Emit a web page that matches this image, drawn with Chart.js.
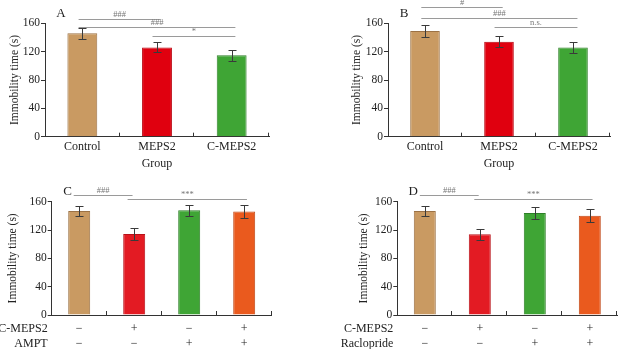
<!DOCTYPE html>
<html><head><meta charset="utf-8">
<script src="https://cdn.jsdelivr.net/npm/chart.js@4"></script>
<style>
body{margin:0;background:#fff;width:618px;height:349px;position:relative;overflow:hidden}
canvas{position:absolute}
</style></head><body>
<canvas id="cA" width="309" height="175" style="left:0;top:0"></canvas>
<canvas id="cB" width="309" height="175" style="left:309px;top:0"></canvas>
<canvas id="cC" width="309" height="174" style="left:0;top:175px"></canvas>
<canvas id="cD" width="309" height="174" style="left:309px;top:175px"></canvas>
<script>
// ---- data ----
const groupsAB = ['Control', 'MEPS2', 'C-MEPS2'];
const valuesA = [146, 126, 115];
const errorsA = [8, 7, 8];
const valuesB = [149, 134, 126];
const errorsB = [8, 8, 8];
const cmeps2Row = ['\u2212', '+', '\u2212', '+'];
const drugRow = ['\u2212', '\u2212', '+', '+'];
const valuesC = [147, 114.5, 148, 146];
const errorsC = [7, 8, 8, 9];
const valuesD = [147, 114, 144, 140];
const errorsD = [7, 8, 8, 9];
const rowLabelsC = ['C-MEPS2', 'AMPT'];
const rowLabelsD = ['C-MEPS2', 'Raclopride'];
const yTicks = [0, 40, 80, 120, 160];
const yTitle = 'Immobility time (s)';
const xTitleAB = 'Group';
const sigA = [
  {from: -0.05, to: 1.05, value: 166, text: '###'},
  {from: -0.05, to: 2.05, value: 154.5, text: '###'},
  {from: 0.94, to: 2.05, value: 142, text: '*'}
];
const sigB = [
  {from: -0.05, to: 1.05, value: 183.5, text: '#'},
  {from: -0.05, to: 2.06, value: 167, text: '###'},
  {from: 0.94, to: 2.06, value: 154.5, text: 'n.s.'}
];
const sigC = [
  {from: -0.1, to: 0.97, value: 169.4, text: '###'},
  {from: 0.88, to: 3.05, value: 163.8, text: '***'}
];
const sigD = [
  {from: -0.09, to: 0.98, value: 169.4, text: '###'},
  {from: 0.9, to: 3.05, value: 163.8, text: '***'}
];

// ---- styles ----
const FONT = "'Liberation Serif', 'Times New Roman', serif";
const TXT = '#222';
const AX = '#333';
const colsAB = ['#c99a62', '#e0000f', '#3fa535'];
const bordAB = ['#9c7245', '#b8000c', '#2d7f27'];
const colsCD = ['#c99a62', '#e31b23', '#3fa535', '#ea5a1e'];
const bordCD = ['#9c7245', '#b81219', '#2d7f27', '#c04816'];

const extras = {
  id: 'extras',
  afterDatasetsDraw(chart, args, o) {
    const ctx = chart.ctx, xs = chart.scales.x, ys = chart.scales.y, ca = chart.chartArea;
    const data = chart.data.datasets[0].data;
    const n = data.length;
    ctx.save();
    // error bars
    ctx.strokeStyle = '#3a3a3a'; ctx.lineWidth = 1;
    o.errors.forEach((e, i) => {
      const px = Math.round(xs.getPixelForValue(i)) + 0.5;
      const t = Math.round(ys.getPixelForValue(data[i] + e)) + 0.5;
      const b = Math.round(ys.getPixelForValue(data[i] - e)) + 0.5;
      ctx.beginPath();
      ctx.moveTo(px, t); ctx.lineTo(px, b);
      ctx.moveTo(px - 4, t); ctx.lineTo(px + 4, t);
      ctx.moveTo(px - 4, b); ctx.lineTo(px + 4, b);
      ctx.stroke();
    });
    // inward x ticks at category boundaries
    ctx.strokeStyle = AX;
    for (let i = 1; i <= n; i++) {
      const px = Math.round(xs.getPixelForValue(i - 0.5)) - 0.5;
      ctx.beginPath(); ctx.moveTo(px, ca.bottom); ctx.lineTo(px, ca.bottom - 4); ctx.stroke();
    }
    // significance lines
    o.sig.forEach(s => {
      const x1 = xs.getPixelForValue(s.from), x2 = xs.getPixelForValue(s.to);
      const py = Math.round(ys.getPixelForValue(s.value)) + 0.5;
      ctx.strokeStyle = '#9a9a9a'; ctx.lineWidth = 1;
      ctx.beginPath(); ctx.moveTo(x1, py); ctx.lineTo(x2, py); ctx.stroke();
      ctx.fillStyle = '#777'; ctx.font = '8.5px ' + FONT;
      ctx.textAlign = 'center'; ctx.textBaseline = 'bottom';
      ctx.fillText(s.text, (x1 + x2) / 2, py - 0.5);
    });
    // panel letter
    ctx.fillStyle = TXT; ctx.font = '13px ' + FONT;
    ctx.textAlign = 'center'; ctx.textBaseline = 'middle';
    ctx.fillText(o.letter, ca.left + 16, ca.top - 10);
    // row labels
    if (o.rows) {
      ctx.font = '12px ' + FONT; ctx.textAlign = 'right'; ctx.fillStyle = TXT;
      o.rows.forEach((r, k) => ctx.fillText(r, ca.left - 4, ca.bottom + o.rowY + k * 14.4));
    }
    ctx.restore();
  }
};

function makeChart(id, cfg) {
  new Chart(document.getElementById(id), {
    type: 'bar',
    data: {
      labels: cfg.labels,
      datasets: [{
        data: cfg.values,
        backgroundColor: cfg.colors,
        borderColor: cfg.borders,
        borderWidth: 1,
        barPercentage: 0.4,
        categoryPercentage: 1
      }]
    },
    options: {
      responsive: false,
      animation: false,
      devicePixelRatio: 1,
      layout: {padding: {top: cfg.top, right: cfg.right, left: 0, bottom: 0}},
      plugins: {
        legend: {display: false}, tooltip: {enabled: false},
        extras: {errors: cfg.errors, sig: cfg.sig, letter: cfg.letter, rows: cfg.rows, rowY: cfg.rowY}
      },
      scales: {
        x: {
          grid: {display: false, drawTicks: false},
          border: {display: true, color: AX, width: 1},
          ticks: {color: TXT, font: {family: FONT, size: 12}, padding: cfg.xPad, maxRotation: 0, autoSkip: false},
          title: {display: !!cfg.xTitle, text: cfg.xTitle || '', color: TXT, font: {family: FONT, size: 12}, padding: {top: 0, bottom: 4.3}},
          afterFit: s => { s.height = cfg.xH; }
        },
        y: {
          min: 0, max: 160,
          afterBuildTicks: s => { s.ticks = yTicks.map(v => ({value: v})); },
          grid: {display: true, drawOnChartArea: false, drawTicks: true, tickLength: 4, color: AX},
          border: {display: true, color: AX, width: 1},
          ticks: {color: TXT, font: {family: FONT, size: 11.5}, padding: 1},
          title: {display: true, text: yTitle, color: TXT, font: {family: FONT, size: 11.5}, padding: {top: cfg.yTitlePad, bottom: 0}},
          afterFit: s => { s.width = cfg.yW; }
        }
      }
    },
    plugins: [extras]
  });
}

makeChart('cA', {labels: groupsAB, values: valuesA, errors: errorsA, colors: colsAB, borders: bordAB,
  sig: sigA, letter: 'A', top: 23.3, right: 40, yW: 45, xH: 38.3, xPad: 3, xTitle: xTitleAB, yTitlePad: 7.8});
makeChart('cB', {labels: groupsAB, values: valuesB, errors: errorsB, colors: colsAB, borders: bordAB,
  sig: sigB, letter: 'B', top: 23.3, right: 8, yW: 79, xH: 38.3, xPad: 3, xTitle: xTitleAB, yTitlePad: 40.8});
const labelsCD = cmeps2Row.map((c, i) => [c, drugRow[i]]);
makeChart('cC', {labels: labelsCD, values: valuesC, errors: errorsC, colors: colsCD, borders: bordCD,
  sig: sigC, letter: 'C', top: 26.7, right: 37.3, yW: 51.7, xH: 34, xPad: 6.8, yTitlePad: 6.1,
  rows: rowLabelsC, rowY: 14});
makeChart('cD', {labels: labelsCD, values: valuesD, errors: errorsD, colors: colsCD, borders: bordCD,
  sig: sigD, letter: 'D', top: 26.7, right: 0.7, yW: 88.3, xH: 34, xPad: 6.8, yTitlePad: 47.8,
  rows: rowLabelsD, rowY: 14});
</script>
</body></html>
